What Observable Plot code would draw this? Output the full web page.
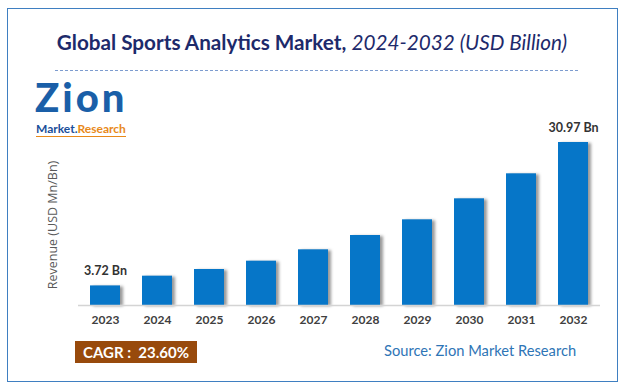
<!DOCTYPE html>
<html><head><meta charset="utf-8">
<script src="https://cdn.jsdelivr.net/npm/d3@7"></script>
<script src="https://cdn.jsdelivr.net/npm/@observablehq/plot@0.6"></script>
<style>
body{margin:0;background:#fff;}
#wrap{position:relative;width:624px;height:391px;overflow:hidden;font-family:Lato,"Open Sans",sans-serif;background:#fff;}
#frame{position:absolute;left:7px;top:8px;width:611px;height:374px;box-sizing:border-box;border:1.5px solid #3f7fc1;}
#title{position:absolute;left:0;top:30px;width:624px;text-align:center;font-size:20.7px;color:#1d2a6b;white-space:nowrap;}
#title b{font-weight:700;}
#title i{font-weight:400;}
#dash{position:absolute;left:55px;top:70px;width:523px;border-top:1px dashed #7d9ccf;}
#logoz{position:absolute;left:35px;top:73px;font-size:40px;font-weight:900;color:#1a5fa8;letter-spacing:3px;white-space:nowrap;}
#logom{position:absolute;left:36px;top:121px;font-size:12px;font-weight:700;white-space:nowrap;border-bottom:1px solid #e8891a;line-height:normal;}
#ylab{position:absolute;left:52px;top:225px;transform:translate(-50%,-50%) rotate(-90deg);font-size:12.5px;color:#595959;white-space:nowrap;font-family:"Open Sans",sans-serif;}
#cagr{position:absolute;left:75px;top:341px;width:122px;height:22px;background:#984a0c;color:#fff;font-weight:700;font-size:15px;line-height:22px;text-align:center;white-space:nowrap;}
#src{position:absolute;left:384px;top:341px;font-size:14.7px;color:#2e75b6;white-space:nowrap;}
#chart{position:absolute;left:0;top:0;}
</style></head>
<body>
<div id="wrap">
  <div id="chart"></div>
  <div id="frame"></div>
  <div id="title"><b>Global Sports Analytics Market,</b> <i>2024-2032 (USD Billion)</i></div>
  <div id="dash"></div>
  <div id="logoz">Zion</div>
  <div id="logom"><span style="color:#1b4f9a">Market.</span><span style="color:#e8891a">Research</span></div>
  <div id="ylab">Revenue (USD Mn/Bn)</div>
  <div id="cagr">CAGR :&nbsp; 23.60%</div>
  <div id="src">Source: Zion Market Research</div>
</div>
<script>
const years = ["2023","2024","2025","2026","2027","2028","2029","2030","2031","2032"];
const values = [3.72, 5.57, 6.84, 8.42, 10.58, 13.30, 16.28, 20.27, 25.02, 30.97];
const labelYears = ["2023","2032"];
const labelTexts = ["3.72 Bn","30.97 Bn"];

const data = years.map((year, i) => ({year, value: values[i]}));
const labelData = labelYears.map((year, i) => ({year, value: values[years.indexOf(year)], label: labelTexts[i]}));

const chart = Plot.plot({
  width: 624, height: 391,
  marginLeft: 78, marginRight: 24, marginTop: 142, marginBottom: 86,
  style: {fontFamily: "Lato, sans-serif", fontSize: "12px", fontWeight: "bold", color: "#404040", background: "transparent"},
  x: {domain: years, paddingInner: 0.425, paddingOuter: 0.2, tickSize: 0, tickPadding: 10, label: null},
  y: {domain: [0, 30.97], axis: null},
  marks: [
    Plot.barY(data, {x: "year", y: "value", fill: "#000", fillOpacity: 0.4, dx: 3, dy: 1}),
    Plot.barY(data, {x: "year", y: "value", fill: "#0676c8"}),
    Plot.ruleY([0], {stroke: "#d4d4d4", strokeWidth: 1.5}),
    Plot.text(labelData, {x: "year", y: "value", text: "label", dy: -15, fill: "#333", fontSize: 12.5, fontWeight: "bold"})
  ]
});
document.getElementById("chart").appendChild(chart);
const bars = d3.select(chart).selectAll("g[aria-label='bar']");
d3.select(bars.nodes()[0]).style("filter", "blur(1.5px)");
</script>
</body></html>
